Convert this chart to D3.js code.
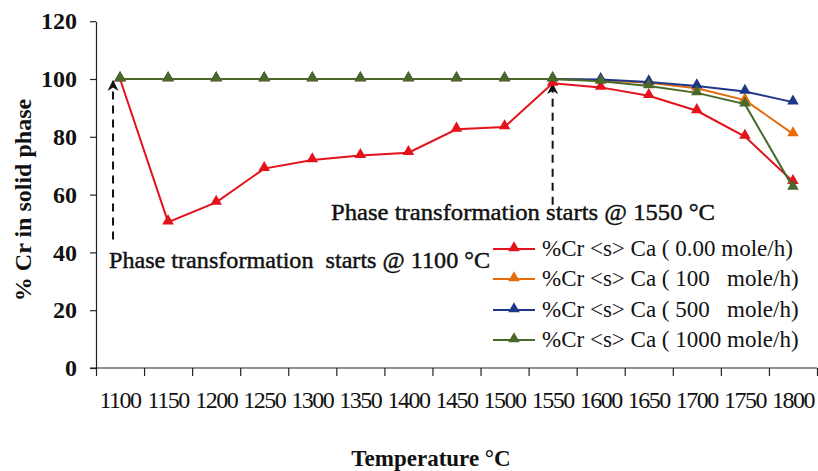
<!DOCTYPE html>
<html>
<head>
<meta charset="utf-8">
<script src="https://cdn.jsdelivr.net/npm/d3@7"></script>
<style>
  html, body { margin: 0; padding: 0; background: #fff; }
  svg { display: block; }
  text { font-family: "Liberation Serif", "DejaVu Serif", serif; fill: #111; }
</style>
</head>
<body>
<svg id="chart" width="818" height="471"></svg>
<script>
// Temperature categories (°C)
const temperatures = ["1100","1150","1200","1250","1300","1350","1400","1450","1500","1550","1600","1650","1700","1750","1800"];

// % Cr remaining in the solid phase for each Ca addition rate
const cr_ca_0    = [100, 50.5, 57.3, 69.0, 72.0, 73.5, 74.5, 82.6, 83.4, 98.5, 97.1, 94.2, 89.0, 80.1, 64.5];
const cr_ca_100  = [100, 100, 100, 100, 100, 100, 100, 100, 100, 100, 99.6, 98.7, 96.8, 92.7, 81.0];
const cr_ca_500  = [100, 100, 100, 100, 100, 100, 100, 100, 100, 100, 99.8, 99.0, 97.6, 95.7, 92.0];
const cr_ca_1000 = [100, 100, 100, 100, 100, 100, 100, 100, 100, 100, 99.2, 97.6, 95.2, 91.3, 62.5];

const seriesNames = [
  "%Cr <s> Ca ( 0.00 mole/h)",
  "%Cr <s> Ca ( 100   mole/h)",
  "%Cr <s> Ca ( 500   mole/h)",
  "%Cr <s> Ca ( 1000 mole/h)"
];
const seriesColors = ["#e3121b", "#e46c0a", "#1f3788", "#48692a"];
const seriesValues = [cr_ca_0, cr_ca_100, cr_ca_500, cr_ca_1000];

const yTicks = [0, 20, 40, 60, 80, 100, 120];

// Annotated phase-transformation temperatures
const annotations = [
  { temp: "1100", label: "Phase transformation  starts @ 1100 °C", from: 44.5, to: 99.3, dx: -7, tx: 109, ty: 268, w: 381 },
  { temp: "1550", label: "Phase transformation starts @ 1550 °C", from: 56.5, to: 98.2, dx: 0, tx: 331, ty: 220, w: 384 }
];

const svg = d3.select("#chart");
const plotLeft = 96, plotRight = 817, plotTop = 21.2, plotBottom = 368;

const x = d3.scaleBand().domain(temperatures).range([plotLeft, plotRight]);
const xEdge = d3.scaleLinear().domain([0, temperatures.length]).range([plotLeft, plotRight]);
const y = d3.scaleLinear().domain([0, 120]).range([plotBottom, plotTop]);

// y axis
const yAxis = svg.append("g")
  .attr("transform", `translate(${plotLeft},0)`)
  .call(d3.axisLeft(y).tickValues(yTicks).tickSize(6).tickPadding(13).tickSizeOuter(0));
yAxis.select(".domain").attr("stroke", "#222").attr("stroke-width", 1.2);
yAxis.selectAll(".tick line").attr("stroke", "#222").attr("stroke-width", 1.2);
yAxis.selectAll(".tick text")
  .attr("font-family", "Liberation Serif, serif")
  .attr("font-size", 24).attr("font-weight", "bold").attr("fill", "#111");

// x axis: line with tick marks at category boundaries
const xAxis = svg.append("g")
  .attr("transform", `translate(0,${plotBottom})`)
  .call(d3.axisBottom(xEdge).tickValues(d3.range(0, temperatures.length + 1))
    .tickSize(8).tickSizeOuter(0).tickFormat(""));
xAxis.select(".domain").attr("stroke", "#222").attr("stroke-width", 1.2)
  .attr("d", `M${plotLeft - 6},0H${plotRight}`);
xAxis.selectAll(".tick line").attr("stroke", "#222").attr("stroke-width", 1.2);

// x category labels
const xLabels = svg.append("g")
  .attr("transform", `translate(0,${plotBottom})`)
  .call(d3.axisBottom(x).tickSize(0).tickPadding(23));
xLabels.select(".domain").remove();
xLabels.selectAll(".tick text")
  .attr("font-family", "Liberation Serif, serif")
  .attr("font-size", 24).attr("fill", "#111").attr("letter-spacing", -1.5);

// axis titles
svg.append("text")
  .attr("x", 431).attr("y", 466)
  .attr("text-anchor", "middle")
  .attr("font-size", 23).attr("font-weight", "bold")
  .text("Temperature °C");

svg.append("text")
  .attr("transform", "translate(31,200) rotate(-90)")
  .attr("text-anchor", "middle")
  .attr("font-size", 24).attr("font-weight", "bold")
  .text("% Cr in solid phase");

// arrowhead
const defs = svg.append("defs");
defs.append("marker")
  .attr("id", "arrow")
  .attr("viewBox", "0 0 10 10")
  .attr("refX", 9).attr("refY", 5)
  .attr("markerWidth", 11).attr("markerHeight", 11)
  .attr("markerUnits", "userSpaceOnUse")
  .attr("orient", "auto")
  .append("path")
  .attr("d", "M0,0 L10,5 L0,10 L3,5 Z")
  .attr("fill", "#111");

// annotation arrows and labels
annotations.forEach(a => {
  const ax = x(a.temp) + x.bandwidth() / 2 + a.dx;
  svg.append("line")
    .attr("x1", ax).attr("x2", ax)
    .attr("y1", y(a.from)).attr("y2", y(a.to))
    .attr("stroke", "#111").attr("stroke-width", 2)
    .attr("stroke-dasharray", "8,6")
    .attr("marker-end", "url(#arrow)");
  svg.append("text")
    .attr("x", a.tx).attr("y", a.ty)
    .attr("font-size", 24)
    .attr("textLength", a.w).attr("lengthAdjust", "spacingAndGlyphs")
    .attr("stroke", "#111").attr("stroke-width", 0.45)
    .style("white-space", "pre")
    .text(a.label);
});

// series lines and triangle markers
const line = d3.line()
  .x((d, i) => x(temperatures[i]) + x.bandwidth() / 2)
  .y(d => y(d));
const tri = d3.symbol().type(d3.symbolTriangle).size(58);

seriesValues.forEach((vals, k) => {
  const g = svg.append("g");
  g.append("path")
    .datum(vals)
    .attr("d", line)
    .attr("fill", "none")
    .attr("stroke", seriesColors[k])
    .attr("stroke-width", 2);
  g.selectAll("path.pt")
    .data(vals)
    .join("path")
    .attr("class", "pt")
    .attr("d", tri)
    .attr("transform", (d, i) => `translate(${x(temperatures[i]) + x.bandwidth() / 2},${y(d) - 1})`)
    .attr("fill", seriesColors[k]);
});

// legend
const legend = svg.append("g");
const legendY = [249, 279, 310, 340];
seriesNames.forEach((name, k) => {
  const row = legend.append("g").attr("transform", `translate(0,${legendY[k]})`);
  row.append("line")
    .attr("x1", 493).attr("x2", 535).attr("y1", 0).attr("y2", 0)
    .attr("stroke", seriesColors[k]).attr("stroke-width", 2);
  row.append("path")
    .attr("d", tri)
    .attr("transform", "translate(514,-1)")
    .attr("fill", seriesColors[k]);
  row.append("text")
    .attr("x", 542).attr("y", 7)
    .attr("font-size", 23)
    .style("white-space", "pre")
    .text(name);
});
</script>
</body>
</html>
